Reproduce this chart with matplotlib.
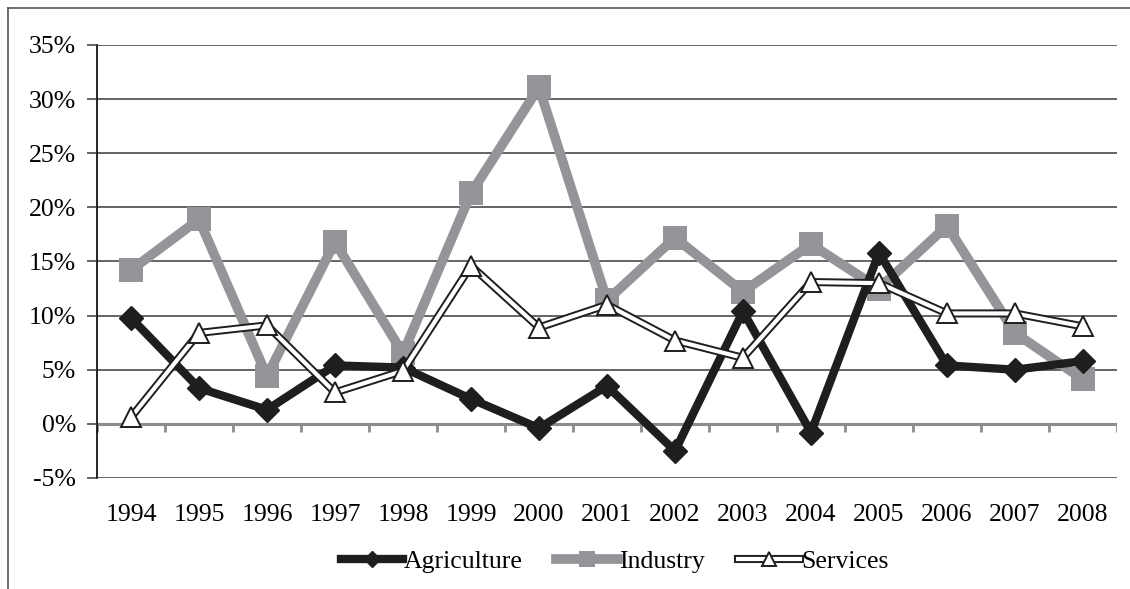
"""Sector growth rates, 1994-2008."""

import matplotlib.pyplot as plt
import matplotlib.patheffects as pe
import numpy as np
from matplotlib.lines import Line2D
from matplotlib.ticker import FuncFormatter

years = ["1994", "1995", "1996", "1997", "1998", "1999", "2000", "2001",
         "2002", "2003", "2004", "2005", "2006", "2007", "2008"]
agriculture = [9.8, 3.3, 1.3, 5.4, 5.2, 2.3, -0.4, 3.5, -2.5, 10.4, -0.8,
               15.8, 5.4, 5.0, 5.8]
industry = [14.2, 18.9, 4.4, 16.8, 6.5, 21.3, 31.1, 11.4, 17.2, 12.2, 16.6,
            12.5, 18.3, 8.4, 4.1]
services = [0.6, 8.4, 9.1, 2.9, 4.9, 14.6, 8.9, 11.0, 7.7, 6.1, 13.1, 13.0,
            10.2, 10.2, 9.0]
y_ticks = [-5, 0, 5, 10, 15, 20, 25, 30, 35]

plt.rcParams["font.family"] = ["Liberation Serif", "DejaVu Serif"]
plt.rcParams["font.size"] = 18.5

fig = plt.figure(figsize=(11.3, 5.89), dpi=100)
ax = fig.add_axes([0.0858, 0.1885, 0.9027, 0.7351])

x = np.arange(len(years))

# gridlines and axes
for v in y_ticks:
    if v != 0:
        ax.axhline(v, color="#3a3a3a", lw=1.1, zorder=1)
ax.axhline(0, color="#8c8c8c", lw=2.2, zorder=1)
ax.vlines(np.arange(len(years) + 1) - 0.5, -0.75, 0, color="#8c8c8c",
          lw=2.0, zorder=1)

ind, = ax.plot(x, industry, color="#939598", lw=7, marker="s", ms=17,
               mec="#939598", mew=0, zorder=2, label="Industry",
               solid_joinstyle="miter")
agr, = ax.plot(x, agriculture, color="#1e1e1e", lw=6, marker="D", ms=12,
               mec="#1e1e1e", mew=1, zorder=3, label="Agriculture",
               solid_joinstyle="miter")
srv_line, = ax.plot(x, services, color="white", lw=3, zorder=4,
                    path_effects=[pe.Stroke(linewidth=5.8, foreground="#1e1e1e"),
                                  pe.Normal()])
srv_mark, = ax.plot(x, services, ls="none", marker="^", ms=15, mfc="white",
                    mec="#1e1e1e", mew=1.4, zorder=5)

ax.set_xlim(-0.5, len(years) - 0.5)
ax.set_ylim(-5, 35)
ax.set_yticks(y_ticks)
ax.yaxis.set_major_formatter(FuncFormatter(lambda v, _: f"{v:.0f}%"))
ax.set_xticks(x)
ax.set_xticklabels(years)
ax.tick_params(axis="x", length=0, pad=19)
ax.tick_params(axis="y", length=7, width=1.1, color="#3a3a3a", pad=8)

for side in ["top", "right", "bottom"]:
    ax.spines[side].set_visible(False)
ax.spines["left"].set_color("black")
ax.spines["left"].set_linewidth(1.2)
ax.spines["left"].set_zorder(1)

ax.legend(
    [agr, ind, (srv_line, srv_mark)],
    ["Agriculture", "Industry", "Services"],
    loc="center",
    bbox_to_anchor=(0.544, 0.046),
    bbox_transform=fig.transFigure,
    ncol=3,
    frameon=False,
    handlelength=2.4,
    handletextpad=0.05,
    columnspacing=1.3,
    markerscale=0.7,
)

# frame around the figure (top and left edges visible)
fig.add_artist(Line2D([0.0075, 0.0075], [0.0, 0.987], color="#555555",
                      lw=1.2, transform=fig.transFigure))
fig.add_artist(Line2D([0.0075, 1.0], [0.987, 0.987], color="#555555",
                      lw=1.2, transform=fig.transFigure))

fig.savefig("out.png", dpi=100)
plt.close(fig)
